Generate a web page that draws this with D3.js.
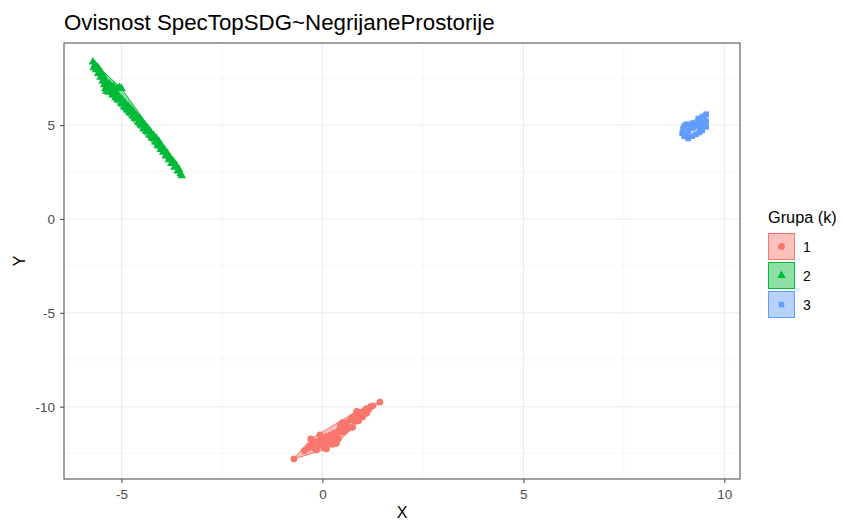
<!DOCTYPE html>
<html><head><meta charset="utf-8">
<script src="https://cdn.jsdelivr.net/npm/d3@7"></script>
<style>body{margin:0;background:#fff;font-family:"Liberation Sans",Arial,sans-serif;}</style>
</head><body><svg id="c" width="843" height="520"></svg>
<script>
const titleText = "Ovisnost SpecTopSDG~NegrijaneProstorije";
const groups = ["1","2","3"];
const colors = ["#F8766D","#00BA38","#619CFF"];
const xTicks = [-5,0,5,10];
const yTicks = [-10,-5,0,5];
const xMinor = [-2.5,2.5,7.5];
const yMinor = [-12.5,-7.5,-2.5,2.5,7.5];

const g1x = [-0.71,-0.45,-0.35,-0.30,-0.29,-0.25,-0.24,-0.2,-0.15,-0.1,-0.06,-0.05,0.0,0.01,0.05,0.05,0.1,0.1,0.15,0.19,0.2,0.25,0.25,0.3,0.35,0.35,0.4,0.4,0.45,0.45,0.5,0.5,0.55,0.55,0.6,0.6,0.65,0.7,0.75,0.75,0.8,0.85,0.85,0.9,0.9,0.95,1.0,1.0,1.05,1.1,1.1,1.15,1.2,1.25,1.43];
const g1y = [-12.78,-12.35,-12.2,-12.1,-11.72,-11.8,-12.04,-12.2,-12.3,-11.85,-11.5,-12.05,-11.7,-11.93,-12.0,-12.2,-11.6,-12.25,-11.9,-11.77,-11.5,-11.75,-12.0,-11.4,-11.6,-11.95,-11.3,-11.7,-11.1,-10.95,-11.35,-10.85,-11.0,-11.3,-10.85,-11.2,-11.1,-10.7,-10.55,-11.1,-10.75,-10.45,-10.25,-10.4,-10.75,-10.3,-10.35,-10.55,-10.2,-10.1,-10.35,-10.15,-10.0,-9.95,-9.75];

const g2x = [-5.71,-5.69,-5.66,-5.63,-5.6,-5.58,-5.55,-5.52,-5.5,-5.47,-5.45,-5.43,-5.42,-5.4,-5.38,-5.38,-5.36,-5.34,-5.32,-5.3,-5.28,-5.25,-5.22,-5.2,-5.2,-5.18,-5.15,-5.12,-5.1,-5.1,-5.05,-5.05,-5.0,-5.0,-4.98,-4.93,-4.9,-4.86,-4.83,-4.8,-4.76,-4.72,-4.7,-4.66,-4.62,-4.58,-4.55,-4.52,-4.48,-4.45,-4.42,-4.38,-4.35,-4.3,-4.28,-4.24,-4.2,-4.16,-4.13,-4.1,-4.06,-4.02,-4.0,-3.96,-3.93,-3.9,-3.86,-3.82,-3.8,-3.76,-3.72,-3.68,-3.65,-3.6,-3.57,-3.53,-3.5];
const g2y = [8.36,8.05,8.22,7.95,8.1,7.75,7.95,7.55,7.8,7.35,7.6,7.15,7.4,6.95,7.3,6.8,6.95,7.1,6.75,7.2,6.85,7.05,6.6,6.9,7.05,6.75,6.45,6.7,6.35,6.95,6.5,7.0,6.15,6.95,6.35,5.95,6.15,5.8,6.0,5.65,5.85,5.5,5.7,5.35,5.5,5.15,5.35,5.0,5.15,4.8,5.0,4.65,4.85,4.45,4.65,4.3,4.45,4.1,4.3,3.9,4.1,3.7,3.9,3.55,3.7,3.35,3.5,3.15,3.3,2.95,3.1,2.75,2.9,2.55,2.65,2.4,2.3];

const g3x = [8.95,8.97,9.0,9.0,9.05,9.1,9.1,9.1,9.15,9.2,9.22,9.25,9.3,9.3,9.35,9.38,9.4,9.42,9.45,9.48,9.5,9.52,9.55,9.55,9.55,9.2,9.05,9.45,9.35];
const g3y = [4.55,4.8,4.95,4.4,4.45,4.35,4.28,4.7,5.0,4.4,4.85,5.05,4.5,4.95,5.1,4.6,4.85,5.2,4.7,5.3,5.0,5.5,5.2,4.9,5.58,5.1,5.05,5.45,5.35];

const groupX = [g1x,g2x,g3x];
const groupY = [g1y,g2y,g3y];

const svg = d3.select("#c");
const L=64,R=740,T=43,B=479;
const x = d3.scaleLinear().domain([-6.43,10.39]).range([L,R]);
const y = d3.scaleLinear().domain([-13.85,9.37]).range([B,T]);

svg.append("text").attr("x",64).attr("y",30).attr("font-size",22.3).attr("fill","#000").text(titleText);

const grid = svg.append("g");
xMinor.forEach(v=>grid.append("line").attr("x1",x(v)).attr("x2",x(v)).attr("y1",T).attr("y2",B).attr("stroke","#f2f2f2").attr("stroke-width",0.6));
yMinor.forEach(v=>grid.append("line").attr("y1",y(v)).attr("y2",y(v)).attr("x1",L).attr("x2",R).attr("stroke","#f2f2f2").attr("stroke-width",0.6));
xTicks.forEach(v=>grid.append("line").attr("x1",x(v)).attr("x2",x(v)).attr("y1",T).attr("y2",B).attr("stroke","#ebebeb").attr("stroke-width",1.1));
yTicks.forEach(v=>grid.append("line").attr("y1",y(v)).attr("y2",y(v)).attr("x1",L).attr("x2",R).attr("stroke","#ebebeb").attr("stroke-width",1.1));

const shapes = [d3.symbolCircle,d3.symbolTriangle,d3.symbolSquare];
const sizes = [36,32,30];
groups.forEach((gname,i)=>{
  const pts = groupX[i].map((v,j)=>[x(v),y(groupY[i][j])]);
  const hull = d3.polygonHull(pts);
  svg.append("path").attr("d","M"+hull.join("L")+"Z")
    .attr("fill",colors[i]).attr("fill-opacity",0.45)
    .attr("stroke",colors[i]).attr("stroke-width",1).attr("stroke-linejoin","round");
  svg.append("g").selectAll("path").data(pts).join("path")
    .attr("transform",d=>`translate(${d[0]},${d[1]})`)
    .attr("d",d3.symbol().type(shapes[i]).size(sizes[i]))
    .attr("fill",colors[i]);
});

svg.append("rect").attr("x",L).attr("y",T).attr("width",R-L).attr("height",B-T)
  .attr("fill","none").attr("stroke","#555").attr("stroke-width",1.1);

const xa = svg.append("g").attr("transform",`translate(0,${B})`)
  .call(d3.axisBottom(x).tickValues(xTicks).tickSize(4).tickPadding(6).tickFormat(d=>d<0?"-"+Math.abs(d):d));
const ya = svg.append("g").attr("transform",`translate(${L},0)`)
  .call(d3.axisLeft(y).tickValues(yTicks).tickSize(4).tickPadding(5).tickFormat(d=>d<0?"-"+Math.abs(d):d));
[xa,ya].forEach(a=>{
  a.select(".domain").remove();
  a.selectAll("line").attr("stroke","#555").attr("stroke-width",1.1);
  a.selectAll("text").attr("fill","#4d4d4d").attr("font-size",13.5).attr("font-family","Liberation Sans, Arial, sans-serif");
});

svg.append("text").attr("x",(L+R)/2).attr("y",518).attr("text-anchor","middle").attr("font-size",16).text("X");
svg.append("text").attr("transform",`translate(25,${(T+B)/2}) rotate(-90)`).attr("text-anchor","middle").attr("font-size",16).text("Y");

const leg = svg.append("g");
leg.append("text").attr("x",768).attr("y",223).attr("font-size",16.3).text("Grupa (k)");
groups.forEach((gname,i)=>{
  const ky = 233 + i*29;
  leg.append("rect").attr("x",768.5).attr("y",ky+0.5).attr("width",26).attr("height",26)
    .attr("fill",colors[i]).attr("fill-opacity",0.45).attr("stroke",colors[i]).attr("stroke-width",1);
  leg.append("path").attr("transform",`translate(${781.5},${ky+13.5})`)
    .attr("d",d3.symbol().type(shapes[i]).size(sizes[i])).attr("fill",colors[i]);
  leg.append("text").attr("x",803).attr("y",ky+19).attr("font-size",14).text(gname);
});
</script></body></html>
